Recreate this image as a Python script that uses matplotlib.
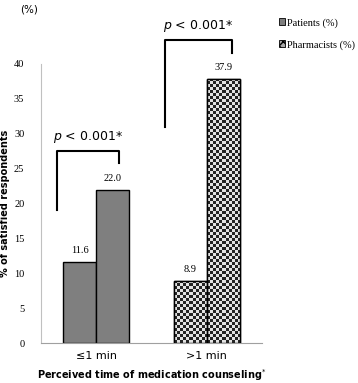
import numpy as np
import matplotlib

matplotlib.use("Agg")
import matplotlib.pyplot as plt
from matplotlib.patches import Patch

# datos
categorias = ["≤1 min", ">1 min"]
series = ["Patients (%)", "Pharmacists (%)"]
pacientes = [11.6, 8.9]
farmaceuticos = [22.0, 37.9]
p_textos = ["p < 0.001*", "p < 0.001*"]
yticks = [0, 5, 10, 15, 20, 25, 30, 35, 40]

SERIF = "Liberation Serif"
SANS = "DejaVu Sans"
GRIS = "#7f7f7f"

fig = plt.figure(figsize=(3.58, 3.83), dpi=100)
ax = fig.add_axes([0.1145, 0.1044, 0.6175, 0.7286])
ax.set_xlim(-0.5, 1.5)
ax.set_ylim(0, 40)

x = np.arange(len(categorias))
w = 0.3
barras = []
for i in range(len(categorias)):
    b1 = ax.bar(x[i] - w / 2, pacientes[i], w, color=GRIS if i == 0 else "white",
                edgecolor="black", linewidth=1.0, zorder=2)[0]
    b2 = ax.bar(x[i] + w / 2, farmaceuticos[i], w, color=GRIS if i == 0 else "white",
                edgecolor="black", linewidth=1.0, zorder=2)[0]
    barras.append((b1, b2))


def cuadricula(barra, celda=3):
    """Relleno de tablero de ajedrez recortado a la barra."""
    x0, y0 = barra.get_x(), barra.get_y()
    x1, y1 = x0 + barra.get_width(), y0 + barra.get_height()
    (px0, py0), (px1, py1) = ax.transData.transform([(x0, y0), (x1, y1)])
    nx = max(1, int(round((px1 - px0) / celda)))
    ny = max(1, int(round((py1 - py0) / celda)))
    ii, jj = np.indices((ny, nx))
    tablero = ((ii + jj) % 2).astype(float)
    im = ax.imshow(tablero, cmap="gray", vmin=-0.2, vmax=1.15,
                   extent=(x0, x1, y0, y1), origin="lower",
                   interpolation="nearest", aspect="auto", zorder=2.5)
    im.set_clip_path(barra)
    # volver a dibujar el borde encima
    ax.bar(x0 + barra.get_width() / 2, barra.get_height(), barra.get_width(),
           fill=False, edgecolor="black", linewidth=1.0, zorder=3)


for b in barras[1]:
    cuadricula(b)
ax.set_xlim(-0.5, 1.5)
ax.set_ylim(0, 40)

# etiquetas de valor
for i in range(len(categorias)):
    ax.text(x[i] - w / 2, pacientes[i] + 1.0, f"{pacientes[i]:.1f}",
            ha="center", va="bottom", family=SERIF, fontsize=7.5, zorder=4,
            bbox=dict(facecolor="white", edgecolor="none", pad=1.5) if i == 1 else None)
    ax.text(x[i] + w / 2, farmaceuticos[i] + 1.0, f"{farmaceuticos[i]:.1f}",
            ha="center", va="bottom", family=SERIF, fontsize=7.5, zorder=4)

# corchetes de significacion
corchetes = [
    (-0.355, 0.209, 19.1, 27.5, 25.8),
    (0.618, 1.227, 31.0, 43.4, 41.6),
]
for (xa, xb, ya, ytop, yb), txt in zip(corchetes, p_textos):
    ax.plot([xa, xa, xb, xb], [ya, ytop, ytop, yb], color="black",
            linewidth=1.5, clip_on=False, zorder=5)
    ax.text((xa + xb) / 2, ytop + 0.9, r"$\it{p}$" + txt[1:], ha="center",
            va="bottom", family=SANS, fontsize=9, clip_on=False)

ax.set_xticks(x)
ax.set_xticklabels(categorias, family=SANS, fontsize=8)
ax.set_yticks(yticks)
ax.set_yticklabels([str(v) for v in yticks], family=SERIF, fontsize=7.5)
ax.tick_params(axis="y", length=0, pad=12)
ax.tick_params(axis="x", length=0, pad=6)
for s in ("top", "right"):
    ax.spines[s].set_visible(False)
ax.spines["left"].set_color("#c0c0c0")
ax.spines["bottom"].set_color("#a0a0a0")

ax.set_ylabel("% of satisfied respondents", family=SANS, fontsize=7,
              fontweight="bold")
ax.yaxis.set_label_coords(-0.14, 0.5)
ax.set_xlabel("Perceived time of medication counseling$^{*}$", family=SANS,
              fontsize=7, fontweight="bold")
ax.xaxis.set_label_coords(0.5, -0.088)

fig.text(0.055, 0.975, "(%)", family=SANS, fontsize=7.5, va="center")

handles = [
    Patch(facecolor=GRIS, edgecolor="black", linewidth=0.6),
    Patch(facecolor="#aaaaaa", edgecolor="black", linewidth=0.6, hatch="xxxx"),
]
fig.legend(handles, series, loc="upper left", bbox_to_anchor=(0.755, 0.975),
           frameon=False, handlelength=0.6, handleheight=0.6, handletextpad=0.2,
           labelspacing=1.2, borderpad=0.3, prop=dict(family=SERIF, size=7.5))

fig.savefig("out.png", dpi=100)
